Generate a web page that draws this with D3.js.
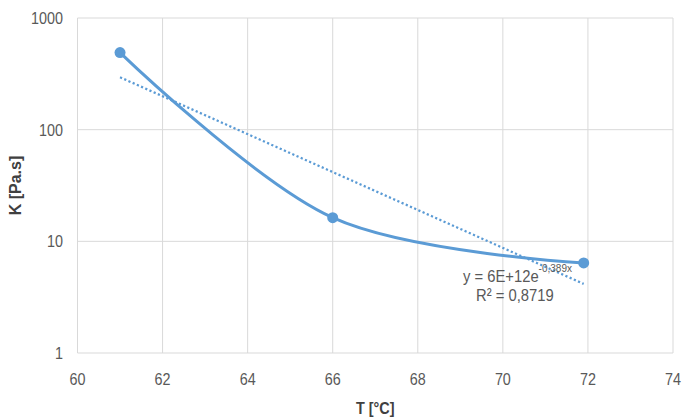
<!DOCTYPE html>
<html>
<head>
<meta charset="utf-8">
<script src="https://cdn.jsdelivr.net/npm/d3@7"></script>
<style>
  body { margin: 0; background: #fff; }
  text { font-family: "Liberation Sans", Arial, sans-serif; fill: #595959; }
</style>
</head>
<body>
<div id="d3-container"></div>
<script>
// measured points
const temps = [61, 66, 71.9];
const kValues = [490, 16.3, 6.4];

const xTicks = [60, 62, 64, 66, 68, 70, 72, 74];
const yTicks = [1, 10, 100, 1000];

const eqText = "y = 6E+12e";
const eqExp = "-0,389x";
const r2Text = "R² = 0,8719";

const width = 683;
const height = 419;
const margin = { top: 18, right: 10, bottom: 66, left: 77.5 };
const squeeze = 0.87; // narrow the glyphs a bit, closer to the original font

const data = temps.map((t, i) => ({ t: t, k: kValues[i] }));

const xScale = d3.scaleLinear()
    .domain([60, 74])
    .range([margin.left, width - margin.right]);

const yScale = d3.scaleLog()
    .domain([1, 1000])
    .range([height - margin.bottom, margin.top]);

// exponential trendline, least squares on ln(k)
const lnK = data.map(d => Math.log(d.k));
const mx = d3.mean(temps), my = d3.mean(lnK);
const b = d3.sum(temps, (t, i) => (t - mx) * (lnK[i] - my)) / d3.sum(temps, t => (t - mx) * (t - mx));
const a = Math.exp(my - b * mx);
const trend = d3.range(0, 51).map(i => {
    const t = temps[0] + (temps[2] - temps[0]) * i / 50;
    return { t: t, k: a * Math.exp(b * t) };
});

const svg = d3.select("#d3-container")
    .append("svg")
    .attr("width", width)
    .attr("height", height);

// grid
svg.append("g")
    .selectAll("line")
    .data(xTicks)
    .join("line")
    .attr("x1", d => xScale(d))
    .attr("x2", d => xScale(d))
    .attr("y1", margin.top)
    .attr("y2", height - margin.bottom)
    .attr("stroke", "#d9d9d9")
    .attr("stroke-width", 1);

svg.append("g")
    .selectAll("line")
    .data(yTicks)
    .join("line")
    .attr("x1", margin.left)
    .attr("x2", width - margin.right)
    .attr("y1", d => yScale(d))
    .attr("y2", d => yScale(d))
    .attr("stroke", "#d9d9d9")
    .attr("stroke-width", 1);

// tick labels
svg.append("g")
    .selectAll("text")
    .data(xTicks)
    .join("text")
    .attr("transform", d => `translate(${xScale(d)},385) scale(${squeeze},1)`)
    .attr("text-anchor", "middle")
    .attr("font-size", 16.5)
    .text(d => d);

svg.append("g")
    .selectAll("text")
    .data(yTicks)
    .join("text")
    .attr("transform", d => `translate(63,${yScale(d) + 6}) scale(${squeeze},1)`)
    .attr("text-anchor", "end")
    .attr("font-size", 16.5)
    .text(d => d);

// axis titles
svg.append("text")
    .attr("transform", `translate(${xScale(67)},414) scale(0.9,1)`)
    .attr("text-anchor", "middle")
    .attr("font-size", 16)
    .attr("font-weight", "bold")
    .style("fill", "#404040")
    .text("T [°C]");

svg.append("text")
    .attr("transform", `translate(21,${yScale(Math.sqrt(1000))}) rotate(-90)`)
    .attr("text-anchor", "middle")
    .attr("font-size", 16)
    .attr("font-weight", "bold")
    .style("fill", "#404040")
    .text("K [Pa.s]");

// trendline
svg.append("path")
    .datum(trend)
    .attr("fill", "none")
    .attr("stroke", "#5b9bd5")
    .attr("stroke-width", 2.25)
    .attr("stroke-dasharray", "2.2,2.4")
    .attr("d", d3.line().x(d => xScale(d.t)).y(d => yScale(d.k)));

// smoothed series
svg.append("path")
    .datum(data)
    .attr("fill", "none")
    .attr("stroke", "#5b9bd5")
    .attr("stroke-width", 3)
    .attr("d", d3.line().curve(d3.curveCardinal).x(d => xScale(d.t)).y(d => yScale(d.k)));

svg.append("g")
    .selectAll("circle")
    .data(data)
    .join("circle")
    .attr("cx", d => xScale(d.t))
    .attr("cy", d => yScale(d.k))
    .attr("r", 5.5)
    .attr("fill", "#5b9bd5");

// equation label
const eq = svg.append("text")
    .attr("transform", `translate(463,282) scale(${squeeze},1)`)
    .attr("font-size", 17);
eq.append("tspan").text(eqText);
eq.append("tspan").attr("dy", -10).attr("font-size", 11.5).text(eqExp);

svg.append("text")
    .attr("transform", `translate(476,301) scale(${squeeze},1)`)
    .attr("font-size", 17)
    .text(r2Text);
</script>
</body>
</html>
